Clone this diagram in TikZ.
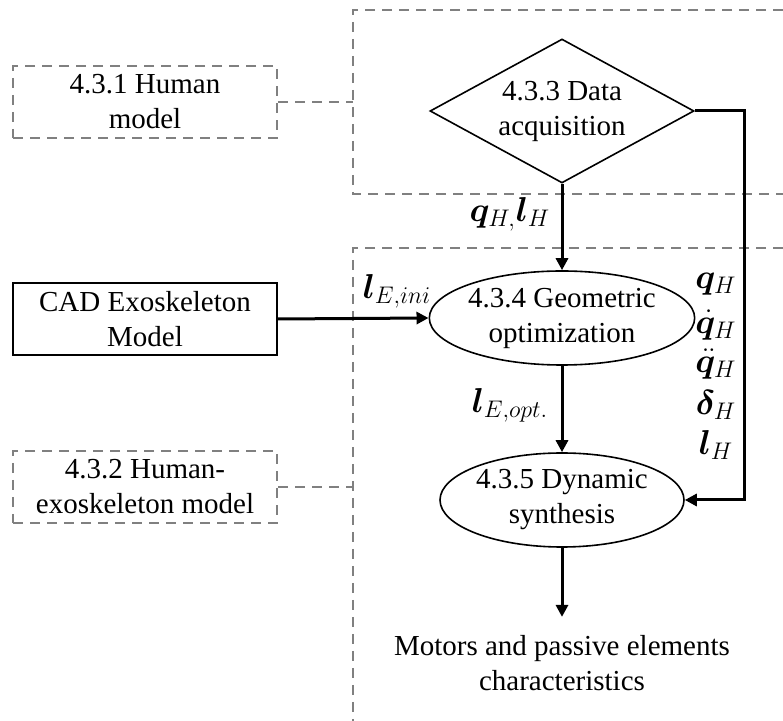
\documentclass[tikz,border=0pt]{standalone}
\usepackage{fontspec}
\setmainfont{Liberation Serif}
\usepackage{amsmath,bm}
\usetikzlibrary{shapes.geometric,arrows.meta}

\begin{document}
\begin{tikzpicture}[x=0.5pt,y=-0.5pt,
  every node/.style={font=\fontsize{14.5}{17.5}\selectfont,align=center,inner sep=0pt},
  region/.style={draw=gray,line width=1pt,dash pattern=on 5pt off 3.5pt},
  flow/.style={draw,line width=1.5pt,-{Triangle[length=6pt,width=6pt]}},
  modelbox/.style={draw,line width=0.8pt,minimum width=132pt,minimum height=36pt},
  refbox/.style={modelbox,draw=gray,line width=1pt,dash pattern=on 5pt off 3.5pt},
  stage/.style={ellipse,draw,line width=0.8pt,minimum width=122pt,minimum height=47pt},
  sym/.style={font=\fontsize{17}{20}\selectfont}]
  \useasboundingbox (0,0) rectangle (783,721);
  % dashed regions
  \draw[region] (783,10) -- (353,10) -- (353,194) -- (783,194);
  \draw[region] (783,248) -- (353,248) -- (353,721);
  \coordinate (regL) at (353,0);
  % nodes
  \node[refbox] (hum) at (145,102) {4.3.1 Human\\model};
  \node[modelbox] (cad) at (145,319) {CAD Exoskeleton\\Model};
  \node[refbox] (hex) at (145,487) {4.3.2 Human-\\exoskeleton model};
  \node[diamond,draw,line width=0.8pt,aspect=1.83,minimum width=132pt,minimum height=72pt] (acq) at (562,111) {4.3.3 Data\\acquisition};
  \node[stage] (geo) at (562,318) {4.3.4 Geometric\\optimization};
  \node[stage] (dyn) at (562,500) {4.3.5 Dynamic\\synthesis};
  \node (out) at (562,663) {Motors and passive elements\\characteristics};
  \coordinate (rail) at (744,300);
  % labels
  \node[sym] (lqh) at (510,214) {$\bm{q}_{H,}\bm{l}_H$};
  \node[sym] (lini) at (397,291) {$\bm{l}_{E,ini}$};
  \node[sym] (lopt) at (510,405) {$\bm{l}_{E,opt.}$};
  \node[sym] (rq) at (716,284) {$\bm{q}_H$};
  \node[sym] (rdq) at (716,325) {$\dot{\bm{q}}_H$};
  \node[sym] (rddq) at (716,364) {$\ddot{\bm{q}}_H$};
  \node[sym] (rdel) at (716,405) {$\bm{\delta}_H$};
  \node[sym] (rl) at (716,445) {$\bm{l}_H$};
  % connectors
  \draw[region] (hum.east) -- (hum.east -| regL);
  \draw[region] (hex.east) -- (hex.east -| regL);
  \draw[flow] (acq.south) -- (geo.north);
  \draw[flow] (cad.east) -- (geo.west);
  \draw[flow] (geo.south) -- (dyn.north);
  \draw[flow] (acq.east) -| (rail) |- (dyn.east);
  \draw[flow,shorten >=9pt] (dyn.south) -- (out.north);
\end{tikzpicture}
\end{document}
